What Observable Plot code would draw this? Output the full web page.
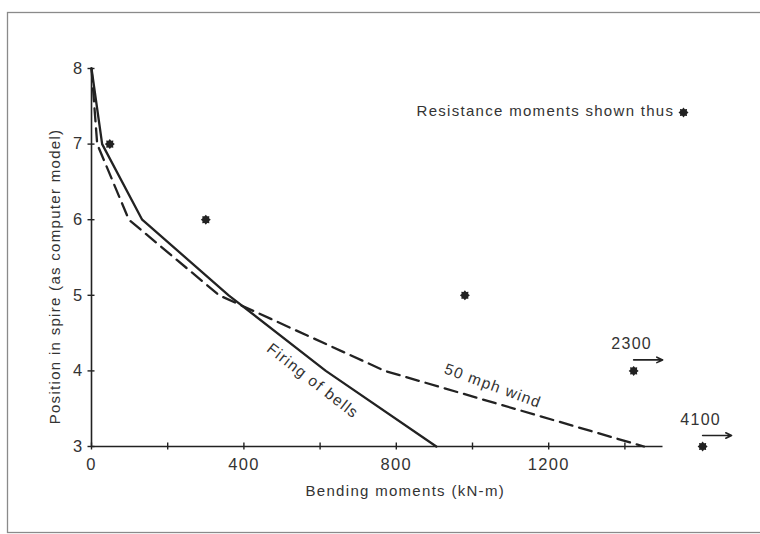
<!DOCTYPE html>
<html>
<head>
<meta charset="utf-8">
<script src="https://cdn.jsdelivr.net/npm/d3@7"></script>
<script src="https://cdn.jsdelivr.net/npm/@observablehq/plot@0.6"></script>
<style>
  html, body { margin: 0; padding: 0; background: #fff; }
  #chart svg text { letter-spacing: 1.3px; }
</style>
</head>
<body>
<div id="chart"></div>
<script>
// ---- data ----
const xDomain = [0, 1500];
const yDomain = [3, 8];
const xTicks = [0, 200, 400, 600, 800, 1000, 1200, 1400];
const xTickLabels = [0, 400, 800, 1200];
const yTicks = [3, 4, 5, 6, 7, 8];

const bellsX = [0, 28, 133, 360, 615, 905];
const bellsY = [8, 7, 6, 5, 4, 3];
const windX = [0, 15, 98, 335, 770, 1450];
const windY = [8, 7, 6, 5, 4, 3];

const resistX = [48, 300, 980, 1423, 1604];
const resistY = [7, 6, 5, 4, 3];
const resistNote = ["", "", "", "2300", "4100"];

const xTitle = "Bending moments (kN-m)";
const yTitle = "Position in spire (as computer model)";
const legendLabel = "Resistance moments shown thus";
const bellsLabel = "Firing of bells";
const windLabel = "50 mph wind";

// ---- tables ----
const bells = bellsX.map((x, i) => ({x, y: bellsY[i]}));
const wind = windX.map((x, i) => ({x, y: windY[i]}));
const resist = resistX.map((x, i) => ({x, y: resistY[i], note: resistNote[i]}));
const offScale = resist.filter(d => d.note);

// 8-pointed star symbol (filled rosette)
const star = {
  draw(context, size) {
    const R = Math.sqrt(size / Math.PI);
    for (let k = 0; k < 16; ++k) {
      const a = k * Math.PI / 8;
      const r = k % 2 ? R * 0.72 : R;
      const px = r * Math.sin(a), py = -r * Math.cos(a);
      if (k === 0) context.moveTo(px, py); else context.lineTo(px, py);
    }
    context.closePath();
  }
};

const ink = "#222";
const textInk = "#333";
const fmt = d => String(d);

const chart = Plot.plot({
  width: 760,
  height: 534,
  marginLeft: 91,
  marginRight: 97.5,
  marginTop: 68,
  marginBottom: 88,
  x: {domain: xDomain},
  y: {domain: yDomain},
  style: {fontFamily: "'Liberation Sans', Arial, sans-serif", fontSize: "15px", color: textInk, background: "#fff"},
  marks: [
    Plot.frame({insetLeft: -84, insetTop: -56, insetRight: -120, insetBottom: -86, stroke: "#8a8a8a", strokeWidth: 1.3}),
    // axis lines
    Plot.ruleY([yDomain[0]], {x1: xDomain[0], x2: xDomain[1], stroke: ink, strokeWidth: 1.6}),
    Plot.ruleX([xDomain[0]], {y1: yDomain[0], y2: yDomain[1], stroke: ink, strokeWidth: 1.6}),
    // crossing ticks
    Plot.ruleX(xTicks, {x: d => d, y1: yDomain[0], y2: yDomain[0], insetTop: -3.5, insetBottom: -3.5, stroke: ink, strokeWidth: 1.4}),
    Plot.ruleY(yTicks, {y: d => d, x1: xDomain[0], x2: xDomain[0], insetLeft: -3.5, insetRight: -3.5, stroke: ink, strokeWidth: 1.4}),
    // tick labels
    Plot.axisX({ticks: xTickLabels, tickFormat: fmt, tickSize: 0, tickPadding: 12, label: null, fontSize: 16.5, fill: textInk}),
    Plot.axisY({ticks: yTicks, tickFormat: fmt, tickSize: 0, tickPadding: 8, label: null, fontSize: 16.5, fill: textInk}),
    // axis titles
    Plot.text([xTitle], {frameAnchor: "bottom", textAnchor: "middle", dx: 28, dy: 45, lineAnchor: "middle", fontSize: 15, fill: textInk}),
    Plot.text([yTitle], {frameAnchor: "left", textAnchor: "middle", dx: -36, dy: 19, rotate: -90, lineAnchor: "middle", fontSize: 15, fill: textInk}),
    // series
    Plot.line(wind, {x: "x", y: "y", stroke: ink, strokeWidth: 2.3, strokeDasharray: "13 7", strokeLinejoin: "round"}),
    Plot.line(bells, {x: "x", y: "y", stroke: ink, strokeWidth: 2.3, strokeLinejoin: "round"}),
    // resistance moments
    Plot.dot(resist, {x: "x", y: "y", symbol: star, r: 5, fill: ink, stroke: null}),
    Plot.arrow(offScale, {x1: "x", y1: "y", x2: d => d.x + 76, y2: "y", dy: -11, stroke: ink, strokeWidth: 1.6, headLength: 6, headAngle: 50}),
    Plot.text(offScale, {x: "x", y: "y", text: "note", dx: -2, dy: -27, lineAnchor: "middle", fontSize: 16, fill: textInk}),
    // line labels
    Plot.text([bells[4]], {x: "x", y: "y", text: () => bellsLabel, dx: -13, dy: 10, rotate: 38, lineAnchor: "middle", fontSize: 15.5, fill: textInk}),
    Plot.text([wind[4]], {x: "x", y: "y", text: () => windLabel, dx: 108, dy: 15, rotate: 20, lineAnchor: "middle", fontSize: 15.5, fill: textInk}),
    // legend
    Plot.text([legendLabel], {frameAnchor: "top-left", dx: 325, dy: 43, textAnchor: "start", lineAnchor: "middle", fontSize: 15, fill: textInk}),
    Plot.dot([legendLabel], {frameAnchor: "top-left", dx: 592, dy: 44, symbol: star, r: 5, fill: ink, stroke: null})
  ]
});

document.getElementById("chart").appendChild(chart);
</script>
</body>
</html>
